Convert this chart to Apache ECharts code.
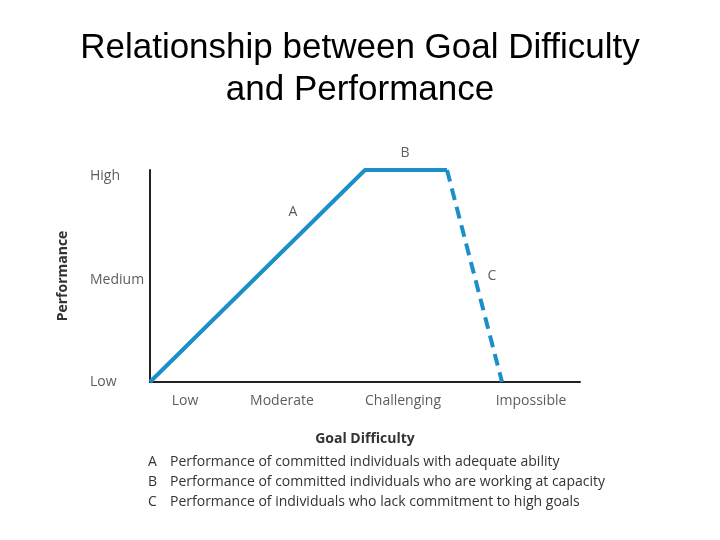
<!DOCTYPE html>
<html><head><meta charset="utf-8">
<script src="https://cdn.jsdelivr.net/npm/echarts@6/dist/echarts.min.js"></script>
<style>html,body{margin:0;background:#fff}#main{width:720px;height:540px}</style>
</head><body><div id="main"></div>
<script>
// goal difficulty (x) vs performance (y), arbitrary units
var solidLine = [[0, 0], [215, 100], [297, 100]];
var dashedLine = [[297, 100], [352, 0]];
var xTicks = [[35, 'Low'], [132, 'Moderate'], [253, 'Challenging'], [381, 'Impossible']];
var yTicks = [[0, 'Low'], [48, 'Medium'], [97, 'High']];
var letters = [[143, 80, 'A'], [255, 108, 'B'], [342, 50, 'C']];
var notes = [
  ['A', 'Performance of committed individuals with adequate ability'],
  ['B', 'Performance of committed individuals who are working at capacity'],
  ['C', 'Performance of individuals who lack commitment to high goals']
];

var blue = '#1b8fc8';
var txt = { fill: '#333', fontFamily: 'Open Sans', fontSize: 14 };
var myChart = echarts.init(document.getElementById('main'));
var graphics = [];
notes.forEach(function (n, i) {
  graphics.push({ type: 'text', left: 148, top: 455 + i * 20, style: Object.assign({ text: n[0] }, txt) });
  graphics.push({ type: 'text', left: 170, top: 455 + i * 20, style: Object.assign({ text: n[1] }, txt) });
});
var option = {
  title: {
    text: 'Relationship between Goal Difficulty\nand Performance',
    left: 'center', top: 22,
    textStyle: { fontFamily: 'Liberation Sans', fontWeight: 'normal', fontSize: 35, color: '#000', lineHeight: 42 }
  },
  graphic: graphics,
  grid: { left: 150, right: 140, top: 170, bottom: 158 },
  xAxis: {
    type: 'value', min: 0, max: 430,
    axisLine: { lineStyle: { color: '#222', width: 2 } },
    axisTick: { show: false }, axisLabel: { show: false }, splitLine: { show: false },
    name: 'Goal Difficulty', nameLocation: 'middle', nameGap: 50,
    nameTextStyle: { fontFamily: 'Open Sans', fontWeight: 'bold', fontSize: 14, color: '#333' }
  },
  yAxis: {
    type: 'value', min: 0, max: 100,
    axisLine: { show: true, lineStyle: { color: '#222', width: 2 } },
    axisTick: { show: false }, axisLabel: { show: false }, splitLine: { show: false },
    name: 'Performance', nameLocation: 'middle', nameGap: 80,
    nameTextStyle: { fontFamily: 'Open Sans', fontWeight: 'bold', fontSize: 14, color: '#333' }
  },
  series: [
    { type: 'line', data: solidLine, symbol: 'none', lineStyle: { color: blue, width: 4 } },
    { type: 'line', data: dashedLine, symbol: 'none', lineStyle: { color: blue, width: 4, type: [12, 7] } },
    {
      type: 'scatter', clip: false, symbolSize: 0,
      data: xTicks.map(function (t) { return { value: [t[0], -9], name: t[1] }; }),
      label: { show: true, formatter: '{b}', position: 'inside', color: '#333', fontFamily: 'Open Sans', fontSize: 14 }
    },
    {
      type: 'scatter', clip: false, symbolSize: 0,
      data: yTicks.map(function (t) { return { value: [0, t[0]], name: t[1] }; }),
      label: { show: true, formatter: '{b}', position: 'left', distance: 60, align: 'left', color: '#333', fontFamily: 'Open Sans', fontSize: 14 }
    },
    {
      type: 'scatter', clip: false, symbolSize: 0,
      data: letters.map(function (t) { return { value: [t[0], t[1]], name: t[2] }; }),
      label: { show: true, formatter: '{b}', position: 'inside', color: '#333', fontFamily: 'Open Sans', fontSize: 14 }
    }
  ]
};
myChart.setOption(option);
</script></body></html>
